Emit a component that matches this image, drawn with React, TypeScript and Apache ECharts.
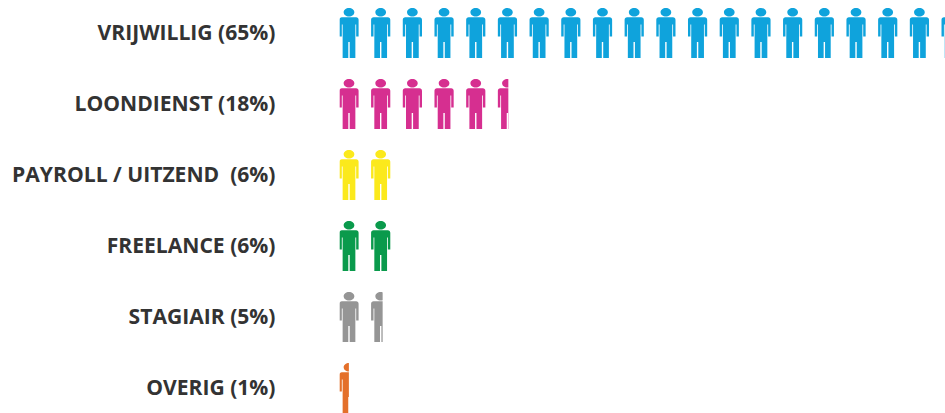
import React, { useEffect, useRef } from "react";
import * as echarts from "echarts";

const categories = ["VRIJWILLIG (65%)", "LOONDIENST (18%)", "PAYROLL / UITZEND\u00A0\u00A0(6%)", "FREELANCE (6%)", "STAGIAIR (5%)", "OVERIG (1%)"];
// Lengths of the rows as pictured, on the percentage scale. The STAGIAIR row is
// labelled 5% but its second figure is cut at about its middle, which reads as 4.6.
const values = [65, 18, 6, 6, 4.6, 1];
const colors = ["#0fa3dc", "#d62f90", "#fbe91c", "#0a9a4c", "#959595", "#e4702a"];

const person =
  "path://M95 0C124 0 148 19 148 43C148 67 124 86 95 86C66 86 42 67 42 43C42 19 66 0 95 0Z" +
  "M25 92L165 92C180 92 190 102 190 117L190 285L166 285L166 165L158 165L158 500L102 500L102 340L88 340L88 500L32 500L32 165L24 165L24 285L0 285L0 117C0 102 10 92 25 92Z";

export default function App() {
  const ref = useRef<HTMLDivElement>(null);
  useEffect(() => {
    document.body.style.margin = "0";
    const chart = echarts.init(ref.current!, null, { renderer: "svg" });
    chart.setOption({
      animation: false,
      backgroundColor: "#ffffff",
      grid: { left: 339.5, top: -4, width: 938, height: 426, outerBoundsMode: "none" },
      xAxis: { type: "value", min: 0, max: 100, show: false },
      yAxis: {
        type: "category",
        inverse: true,
        data: categories,
        axisLine: { show: false },
        axisTick: { show: false },
        axisLabel: {
          margin: 64,
          color: "#333333",
          fontFamily: "Open Sans",
          fontWeight: 700,
          fontSize: 21.1,
          align: "right",
        },
      },
      series: [
        {
          type: "pictorialBar",
          data: values.map((v, i) => ({ value: v, itemStyle: { color: colors[i] } })),
          symbol: person,
          symbolSize: [19, 50],
          symbolOffset: [0, 1.5],
          symbolRepeat: "fixed",
          symbolClip: true,
          symbolBoundingData: 100,
          symbolMargin: 6.35,
          symbolPosition: "start",
          silent: true,
        },
      ],
    });
    return () => chart.dispose();
  }, []);
  return <div ref={ref} style={{ width: 945, height: 413 }} />;
}
